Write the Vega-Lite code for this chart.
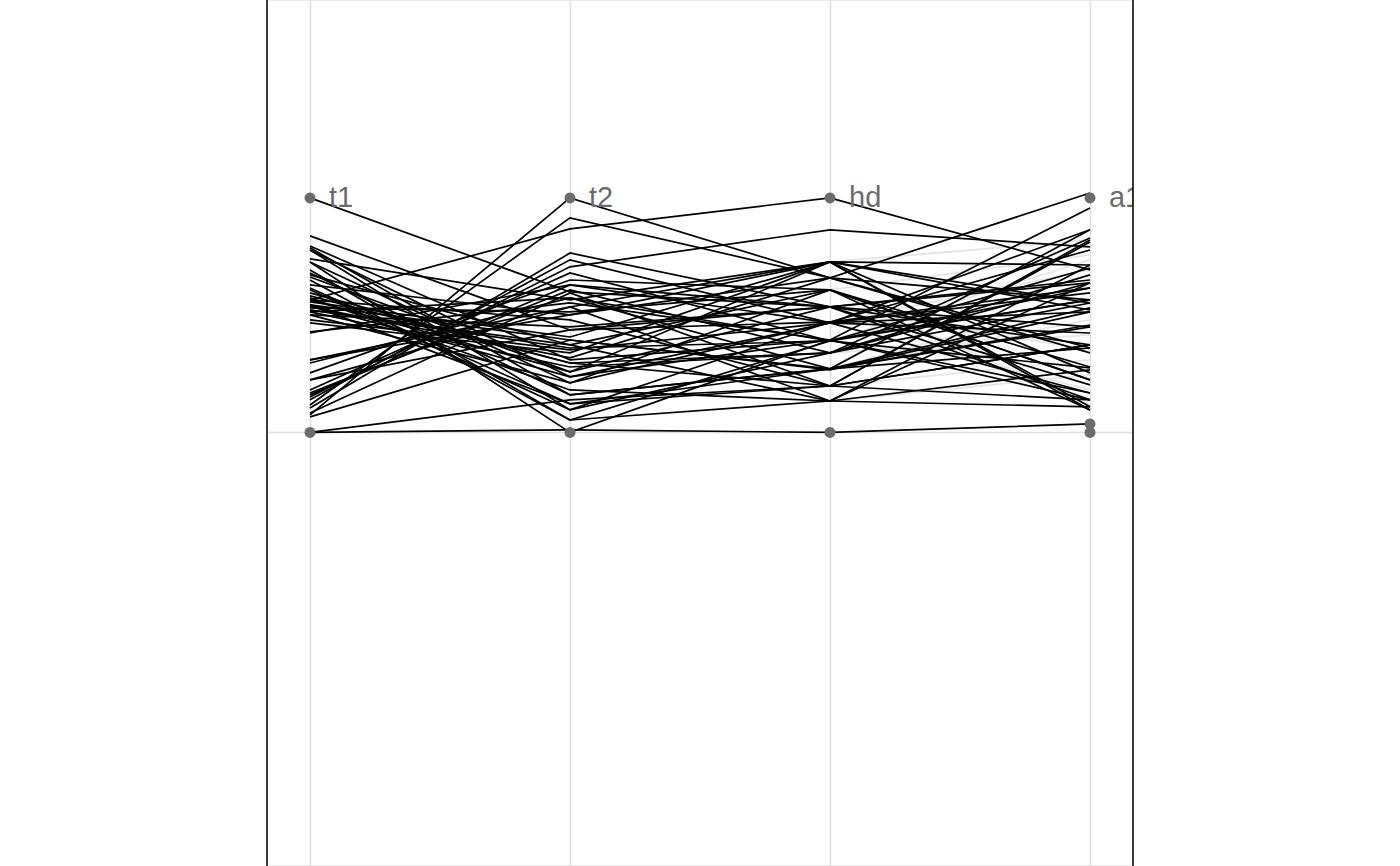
{
  "$schema": "https://vega.github.io/schema/vega-lite/v6.json",
  "width": 866,
  "height": 866,
  "autosize": "none",
  "padding": {"left": 267, "right": 267, "top": 0, "bottom": 0},
  "background": "white",
  "config": {"view": {"stroke": "#e3e3e3", "strokeWidth": 1.5}},
  "datasets": {
    "lines": [
      {"id": 1, "t1": 1, "t2": 0.599, "hd": 0.535, "a1": 0.650},
      {"id": 2, "t1": 0.075, "t2": 1, "hd": 0.659, "a1": 0.565},
      {"id": 3, "t1": 0.565, "t2": 0.868, "hd": 1, "a1": 0.693},
      {"id": 4, "t1": 0, "t2": 0.011, "hd": 0, "a1": 0.036},
      {"id": 5, "t1": 0, "t2": 0.139, "hd": 0.198, "a1": 0.373},
      {"id": 6, "t1": 0.838, "t2": 0.437, "hd": 0.471, "a1": 0.778},
      {"id": 7, "t1": 0.795, "t2": 0.309, "hd": 0.394, "a1": 0.957},
      {"id": 8, "t1": 0.787, "t2": 0.160, "hd": 0.271, "a1": 0.864},
      {"id": 9, "t1": 0.778, "t2": 0.096, "hd": 0.339, "a1": 0.829},
      {"id": 10, "t1": 0.740, "t2": 0.565, "hd": 0.727, "a1": 0.714},
      {"id": 11, "t1": 0.727, "t2": 0.211, "hd": 0.467, "a1": 0.514},
      {"id": 12, "t1": 0.672, "t2": 0.373, "hd": 0.608, "a1": 0.224},
      {"id": 13, "t1": 0.663, "t2": 0.258, "hd": 0.535, "a1": 0.139},
      {"id": 14, "t1": 0.650, "t2": 0.053, "hd": 0.390, "a1": 0.616},
      {"id": 15, "t1": 0.616, "t2": 0.122, "hd": 0.271, "a1": 0.450},
      {"id": 16, "t1": 0.595, "t2": 0.296, "hd": 0.198, "a1": 0.812},
      {"id": 17, "t1": 0.574, "t2": 0.181, "hd": 0.134, "a1": 0.638},
      {"id": 18, "t1": 0.557, "t2": 0.407, "hd": 0.727, "a1": 0.109},
      {"id": 19, "t1": 0.544, "t2": 0.237, "hd": 0.467, "a1": 0.595},
      {"id": 20, "t1": 0.535, "t2": 0.318, "hd": 0.659, "a1": 0.339},
      {"id": 21, "t1": 0.531, "t2": 0.514, "hd": 0.608, "a1": 0.096},
      {"id": 22, "t1": 0.522, "t2": 0.360, "hd": 0.390, "a1": 0.701},
      {"id": 23, "t1": 0.514, "t2": 0.279, "hd": 0.339, "a1": 0.552},
      {"id": 24, "t1": 0.501, "t2": 0.450, "hd": 0.535, "a1": 0.203},
      {"id": 25, "t1": 0.467, "t2": 0.339, "hd": 0.727, "a1": 0.254},
      {"id": 26, "t1": 0.429, "t2": 0.552, "hd": 0.394, "a1": 0.168},
      {"id": 27, "t1": 0.424, "t2": 0.629, "hd": 0.467, "a1": 0.424},
      {"id": 28, "t1": 0.309, "t2": 0.501, "hd": 0.659, "a1": 0.360},
      {"id": 29, "t1": 0.296, "t2": 0.574, "hd": 0.271, "a1": 0.531},
      {"id": 30, "t1": 0.254, "t2": 0.650, "hd": 0.608, "a1": 0.279},
      {"id": 31, "t1": 0.224, "t2": 0.535, "hd": 0.727, "a1": 0.096},
      {"id": 32, "t1": 0.181, "t2": 0.680, "hd": 0.390, "a1": 0.565},
      {"id": 33, "t1": 0.168, "t2": 0.608, "hd": 0.339, "a1": 0.672},
      {"id": 34, "t1": 0.151, "t2": 0.706, "hd": 0.864, "a1": 0.791},
      {"id": 35, "t1": 0.139, "t2": 0.736, "hd": 0.467, "a1": 0.168},
      {"id": 36, "t1": 0.104, "t2": 0.765, "hd": 0.535, "a1": 0.638},
      {"id": 37, "t1": 0.083, "t2": 0.595, "hd": 0.198, "a1": 0.373},
      {"id": 38, "t1": 0.066, "t2": 0.394, "hd": 0.271, "a1": 0.458},
      {"id": 39, "t1": 0.117, "t2": 0.915, "hd": 0.659, "a1": 1.021},
      {"id": 40, "t1": 0.565, "t2": 0.480, "hd": 0.198, "a1": 0.821},
      {"id": 41, "t1": 0.522, "t2": 0.373, "hd": 0.134, "a1": 0.714},
      {"id": 42, "t1": 0.778, "t2": 0.237, "hd": 0.394, "a1": 0.139},
      {"id": 43, "t1": 0.608, "t2": 0.096, "hd": 0.471, "a1": 0.616},
      {"id": 44, "t1": 0.544, "t2": 0.394, "hd": 0.267, "a1": 0.514},
      {"id": 45, "t1": 0.501, "t2": 0.211, "hd": 0.608, "a1": 0.224},
      {"id": 46, "t1": 0.309, "t2": 0.535, "hd": 0.134, "a1": 0.109},
      {"id": 47, "t1": 0.160, "t2": 0.629, "hd": 0.535, "a1": 0.450},
      {"id": 48, "t1": 0.582, "t2": 0.296, "hd": 0.339, "a1": 0.638},
      {"id": 49, "t1": 0.680, "t2": 0.160, "hd": 0.271, "a1": 0.360},
      {"id": 50, "t1": 0.514, "t2": 0.574, "hd": 0.390, "a1": 0.275},
      {"id": 51, "t1": 0.629, "t2": 0.501, "hd": 0.727, "a1": 0.552},
      {"id": 52, "t1": 0.224, "t2": 0.437, "hd": 0.535, "a1": 0.373},
      {"id": 53, "t1": 0.565, "t2": 0.258, "hd": 0.727, "a1": 0.522},
      {"id": 54, "t1": 0.480, "t2": 0.352, "hd": 0.467, "a1": 0.864},
      {"id": 55, "t1": 0.544, "t2": 0.122, "hd": 0.198, "a1": 0.139},
      {"id": 56, "t1": 0.727, "t2": 0, "hd": 0.394, "a1": 0.565},
      {"id": 57, "t1": 0.693, "t2": 0.053, "hd": 0.134, "a1": 0.267}
    ],
    "faint": [
      {"id": "g1", "hd": 0.727, "a1": 0.821},
      {"id": "g2", "hd": 0.608, "a1": 0.757},
      {"id": "g3", "hd": 0.467, "a1": 0.693},
      {"id": "g4", "hd": 0.659, "a1": 0.565},
      {"id": "g5", "hd": 0.394, "a1": 0.629},
      {"id": "g6", "hd": 0.271, "a1": 0.480},
      {"id": "g7", "hd": 0.339, "a1": 0.416},
      {"id": "g8", "hd": 0.535, "a1": 0.352},
      {"id": "g9", "hd": 0.198, "a1": 0.309},
      {"id": "g10", "hd": 0.134, "a1": 0.245},
      {"id": "g11", "hd": 0.467, "a1": 0.181},
      {"id": "g12", "hd": 0.608, "a1": 0.117},
      {"id": "g13", "hd": 0.727, "a1": 0.096},
      {"id": "g14", "hd": 0.390, "a1": 0.736},
      {"id": "g15", "hd": 0.271, "a1": 0.565}
    ],
    "dots": [
      {"axis": "t1", "v": 0}, {"axis": "t1", "v": 1},
      {"axis": "t2", "v": 0}, {"axis": "t2", "v": 1},
      {"axis": "hd", "v": 0}, {"axis": "hd", "v": 1},
      {"axis": "a1", "v": 0}, {"axis": "a1", "v": 0.036}, {"axis": "a1", "v": 1}
    ],
    "labels": [
      {"axis": "t1", "v": 1, "name": "t1"},
      {"axis": "t2", "v": 1, "name": "t2"},
      {"axis": "hd", "v": 1, "name": "hd"},
      {"axis": "a1", "v": 1, "name": "a1"}
    ],
    "frame": [{"edge": 0}, {"edge": 1}]
  },
  "layer": [
    {
      "layer": [
        {
          "data": {"name": "faint"},
          "transform": [{"fold": ["hd", "a1"], "as": ["axis", "v"]}],
          "mark": {"type": "line", "color": "#e6e6e6", "strokeWidth": 1.8},
          "encoding": {
            "x": {
              "field": "axis", "type": "nominal",
              "scale": {"type": "point", "domain": ["t1", "t2", "hd", "a1"], "padding": 0.1654},
              "axis": {"title": null, "labels": false, "ticks": false, "domain": false, "grid": true, "gridColor": "#e0e0e0", "gridWidth": 1.6}
            },
            "y": {
              "field": "v", "type": "quantitative",
              "scale": {"domain": [-1.849, 1.844], "nice": false, "zero": false},
              "axis": {"title": null, "labels": false, "ticks": false, "domain": false, "grid": true, "values": [0], "gridColor": "#e0e0e0", "gridWidth": 1.6}
            },
            "detail": {"field": "id"},
            "order": {"value": null}
          }
        },
        {
          "data": {"name": "lines"},
          "transform": [{"fold": ["t1", "t2", "hd", "a1"], "as": ["axis", "v"]}],
          "mark": {"type": "line", "color": "black", "strokeWidth": 1.7},
          "encoding": {
            "x": {"field": "axis", "type": "nominal"},
            "y": {"field": "v", "type": "quantitative"},
            "detail": {"field": "id"},
            "order": {"value": null}
          }
        },
        {
          "data": {"name": "dots"},
          "mark": {"type": "circle", "color": "#6b6b6b", "opacity": 1, "size": 120},
          "encoding": {
            "x": {"field": "axis", "type": "nominal"},
            "y": {"field": "v", "type": "quantitative"}
          }
        },
        {
          "data": {"name": "labels"},
          "mark": {"type": "text", "align": "left", "baseline": "middle", "dx": 19, "dy": 0, "fontSize": 29, "font": "Liberation Sans", "color": "#6b6b6b", "clip": true},
          "encoding": {
            "x": {"field": "axis", "type": "nominal"},
            "y": {"field": "v", "type": "quantitative"},
            "text": {"field": "name"}
          }
        }
      ]
    },
    {
      "data": {"name": "frame"},
      "mark": {"type": "rule", "color": "black", "strokeWidth": 1.5},
      "encoding": {
        "x": {"field": "edge", "type": "quantitative", "scale": {"domain": [0, 1], "nice": false, "zero": false}, "axis": null}
      }
    }
  ],
  "resolve": {"scale": {"x": "independent"}}
}
